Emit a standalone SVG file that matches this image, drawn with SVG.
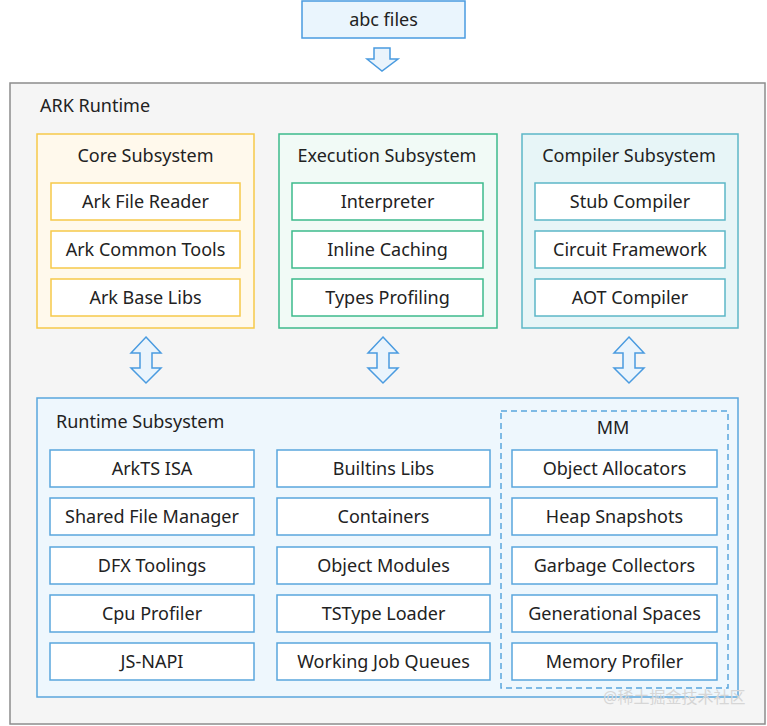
<svg xmlns="http://www.w3.org/2000/svg" width="767" height="726" viewBox="0 0 767 726">
<style>
text{font-family:"Noto Sans","Open Sans","Liberation Sans",sans-serif;font-size:18px;fill:#222;}
.c{text-anchor:middle;}
.item{fill:#fff;stroke-width:1.5;}
.core{fill:#fff9ec;stroke:#f6c94a;stroke-width:1.5;}
.core-i{stroke:#f6c94a;}
.exec{fill:#f1faf6;stroke:#3dba8c;stroke-width:1.5;}
.exec-i{stroke:#3dba8c;}
.comp{fill:#e7f5f7;stroke:#5cb7c7;stroke-width:1.5;}
.comp-i{stroke:#5cb7c7;}
.rt{fill:#eef7fd;stroke:#5aa6dd;stroke-width:1.5;}
.rt-i{stroke:#5aa6dd;}
.arrow{fill:#eaf4fc;stroke:#4a9be0;stroke-width:1.5;stroke-linejoin:miter;}
</style>
<rect x="0" y="0" width="767" height="726" fill="#ffffff"/>
<g id="ark-runtime">
<rect x="10" y="83" width="755" height="641" fill="#f5f5f5" stroke="#8c8c8c" stroke-width="1.5"/>
<text x="40" y="112">ARK Runtime</text>
</g>
<g id="abc-files">
<rect x="302" y="1" width="163" height="37" fill="#eaf5fd" stroke="#4a9be0" stroke-width="1.5"/>
<text x="383.5" y="26" class="c">abc files</text>
</g>
<g id="connectors">
<path class="arrow" d="M374,48 H390 V59 H398 L382,71 L367,59 H374 Z"/>
<path class="arrow" d="M146,337 L161,353 H152 V368 H161 L146,383 L131,368 H140 V353 H131 Z"/>
<path class="arrow" d="M383,337 L398,353 H389 V368 H398 L383,383 L368,368 H377 V353 H368 Z"/>
<path class="arrow" d="M629,337 L644,353 H635 V368 H644 L629,383 L614,368 H623 V353 H614 Z"/>
</g>
<g id="core-subsystem">
<rect class="core" x="37" y="134" width="217" height="194"/>
<text x="145.5" y="162" class="c">Core Subsystem</text>
</g>
<g id="ark-file-reader"><rect class="item core-i" x="51" y="183" width="189" height="37"/><text x="145.5" y="208" class="c">Ark File Reader</text></g>
<g id="ark-common-tools"><rect class="item core-i" x="51" y="231" width="189" height="37"/><text x="145.5" y="256" class="c">Ark Common Tools</text></g>
<g id="ark-base-libs"><rect class="item core-i" x="51" y="279" width="189" height="37"/><text x="145.5" y="304" class="c">Ark Base Libs</text></g>

<g id="execution-subsystem">
<rect class="exec" x="279" y="134" width="218" height="194"/>
<text x="387" y="162" class="c">Execution Subsystem</text>
</g>
<g id="interpreter"><rect class="item exec-i" x="292" y="183" width="191" height="37"/><text x="387.5" y="208" class="c">Interpreter</text></g>
<g id="inline-caching"><rect class="item exec-i" x="292" y="231" width="191" height="37"/><text x="387.5" y="256" class="c">Inline Caching</text></g>
<g id="types-profiling"><rect class="item exec-i" x="292" y="279" width="191" height="37"/><text x="387.5" y="304" class="c">Types Profiling</text></g>

<g id="compiler-subsystem">
<rect class="comp" x="522" y="134" width="216" height="194"/>
<text x="629" y="162" class="c">Compiler Subsystem</text>
</g>
<g id="stub-compiler"><rect class="item comp-i" x="535" y="183" width="190" height="37"/><text x="630" y="208" class="c">Stub Compiler</text></g>
<g id="circuit-framework"><rect class="item comp-i" x="535" y="231" width="190" height="37"/><text x="630" y="256" class="c">Circuit Framework</text></g>
<g id="aot-compiler"><rect class="item comp-i" x="535" y="279" width="190" height="37"/><text x="630" y="304" class="c">AOT Compiler</text></g>

<g id="runtime-subsystem">
<rect class="rt" x="37" y="398" width="701" height="299"/>
<text x="56" y="428">Runtime Subsystem</text>
</g>
<g id="arkts-isa"><rect class="item rt-i" x="50" y="450" width="204" height="37"/><text x="152" y="475" class="c">ArkTS ISA</text></g>
<g id="shared-file-manager"><rect class="item rt-i" x="50" y="498" width="204" height="37"/><text x="152" y="523" class="c">Shared File Manager</text></g>
<g id="dfx-toolings"><rect class="item rt-i" x="50" y="547" width="204" height="37"/><text x="152" y="572" class="c">DFX Toolings</text></g>
<g id="cpu-profiler"><rect class="item rt-i" x="50" y="595" width="204" height="37"/><text x="152" y="620" class="c">Cpu Profiler</text></g>
<g id="js-napi"><rect class="item rt-i" x="50" y="643" width="204" height="37"/><text x="152" y="668" class="c">JS-NAPI</text></g>

<g id="builtins-libs"><rect class="item rt-i" x="277" y="450" width="213" height="37"/><text x="383.5" y="475" class="c">Builtins Libs</text></g>
<g id="containers"><rect class="item rt-i" x="277" y="498" width="213" height="37"/><text x="383.5" y="523" class="c">Containers</text></g>
<g id="object-modules"><rect class="item rt-i" x="277" y="547" width="213" height="37"/><text x="383.5" y="572" class="c">Object Modules</text></g>
<g id="tstype-loader"><rect class="item rt-i" x="277" y="595" width="213" height="37"/><text x="383.5" y="620" class="c">TSType Loader</text></g>
<g id="working-job-queues"><rect class="item rt-i" x="277" y="643" width="213" height="37"/><text x="383.5" y="668" class="c">Working Job Queues</text></g>

<g id="mm">
<rect x="501" y="411" width="227" height="277" fill="none" stroke="#5aa6dd" stroke-width="1.5" stroke-dasharray="6,4"/>
<text x="613" y="434" class="c">MM</text>
</g>
<g id="object-allocators"><rect class="item rt-i" x="512" y="450" width="205" height="37"/><text x="614.5" y="475" class="c">Object Allocators</text></g>
<g id="heap-snapshots"><rect class="item rt-i" x="512" y="498" width="205" height="37"/><text x="614.5" y="523" class="c">Heap Snapshots</text></g>
<g id="garbage-collectors"><rect class="item rt-i" x="512" y="547" width="205" height="37"/><text x="614.5" y="572" class="c">Garbage Collectors</text></g>
<g id="generational-spaces"><rect class="item rt-i" x="512" y="595" width="205" height="37"/><text x="614.5" y="620" class="c">Generational Spaces</text></g>
<g id="memory-profiler"><rect class="item rt-i" x="512" y="643" width="205" height="37"/><text x="614.5" y="668" class="c">Memory Profiler</text></g>

<text x="603" y="703" style="font-family:'Noto Sans','Noto Sans CJK SC',sans-serif;font-size:16px;fill:#d6d6d6;">@稀土掘金技术社区</text>
</svg>
